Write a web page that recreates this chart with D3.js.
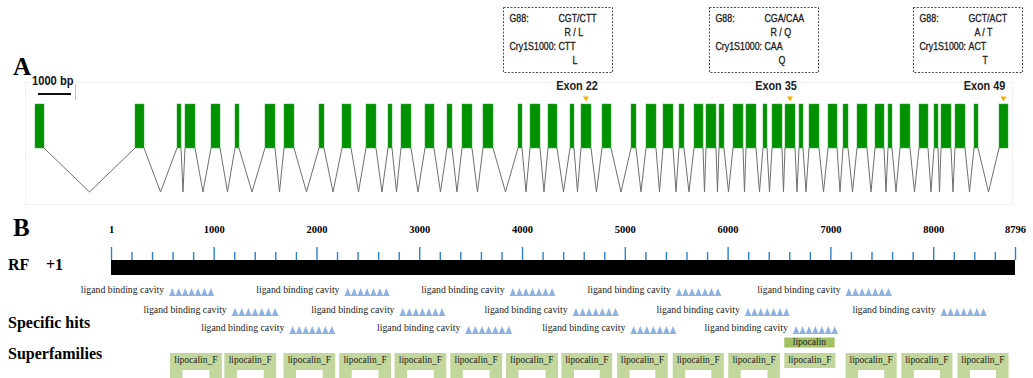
<!DOCTYPE html>
<html>
<head>
<meta charset="utf-8">
<script src="https://cdn.jsdelivr.net/npm/d3@7"></script>
<style>
  html, body { margin: 0; padding: 0; background: #fff; }
  svg { display: block; }
</style>
</head>
<body>
<svg id="chart" width="1033" height="378"></svg>
<script>
// ── Data: panel A (gene structure, bp) ───────────────────────────────
const exonStart = [0, 3030, 4303, 4545, 5333, 6060, 6969, 7545, 8605, 9302,
  10029, 10696, 11090, 11817, 12484, 12938, 13574, 14635, 15000, 15544,
  16211, 16544, 17181, 18060, 18514, 19029, 19514, 19968, 20332, 20726,
  21150, 21544, 22059, 22332, 22726, 23150, 23453, 24029, 24484, 24908,
  25453, 25847, 26210, 26786, 27241, 27453, 27877, 28453, 29211];
const exonEnd = [273, 3303, 4424, 4848, 5606, 6181, 7272, 7848, 8757, 9575,
  10332, 10817, 11393, 12090, 12635, 13241, 13878, 14756, 15302, 15817,
  16332, 16847, 17453, 18211, 18817, 19332, 19665, 20241, 20635, 20877,
  21453, 21847, 22180, 22635, 23029, 23271, 23756, 24302, 24635, 25211,
  25726, 25968, 26513, 27059, 27362, 27756, 28180, 28574, 29483];
const scaleBarBp = 1000;

const snpExons = [22, 35, 49];
const g88Codon = ['CGT/CTT', 'CGA/CAA', 'GCT/ACT'];
const g88Aa = ['R / L', 'R / Q', 'A / T'];
const cryCodon = ['CTT', 'CAA', 'ACT'];
const cryAa = ['L', 'Q', 'T'];

// ── Data: panel B (protein domains, aa) ──────────────────────────────
const proteinLength = 8796;
const majorTicks = [1, 1000, 2000, 3000, 4000, 5000, 6000, 7000, 8000, 8796];
const minorTicks = d3.range(200, 8796, 200).filter(v => v % 1000 !== 0);

const cavityRow = [1, 1, 1, 1, 1, 2, 2, 2, 2, 2, 3, 3, 3, 3];
const cavityStart = [566, 2273, 3879, 5496, 7148, 1176, 2808, 4493, 6168, 8073, 1737, 3448, 5055, 6635];
const cavityEnd = [1004, 2711, 4324, 5938, 7597, 1630, 3253, 4941, 6603, 8521, 2182, 3903, 5500, 7073];

const lipoFStart = [575, 1104, 1679, 2221, 2760, 3302, 3844, 4383, 4925, 5466, 6006, 6551, 7148, 7690, 8236];
const lipoFEnd = [1079, 1608, 2182, 2725, 3263, 3806, 4350, 4877, 5418, 5963, 6509, 7048, 7645, 8187, 8733];
const lipoFPartial = [6551];            // hit drawn without the lower bracket
const lipocalinStart = [6551];
const lipocalinEnd = [7041];

// ── Layout ───────────────────────────────────────────────────────────
const GREEN = '#009100';
const INTRON = '#6f6f6f';
const ORANGE = '#f5b000';
const TICK_BLUE = '#2a80cc';
const TRI_BLUE = '#8db3e2';
const LIPO_F = '#c3d69b';
const LIPO = '#a2c064';
const SANS = "'Liberation Sans', Arial, sans-serif";
const SERIF = "'Liberation Serif', 'Times New Roman', serif";

const EXON_TOP = 104, EXON_BOT = 148, INTRON_DEPTH = 192;
const BOX_DX = [-83, -81, -91], BOX_W = 109, BOX_TOP = 7, BOX_BOT = 72;
const LABEL_DX = [-9, -14, -19];

const svg = d3.select('#chart');

// narrow sans text (stand-in for a condensed face)
function narrowText(parent, x, y, str, size, sx, opts = {}) {
  return parent.append('text')
    .attr('transform', `translate(${x},${y}) scale(${sx},1)`)
    .attr('text-anchor', opts.anchor || 'start')
    .attr('font-family', SANS)
    .attr('font-weight', opts.weight || 'normal')
    .attr('font-size', size)
    .attr('fill', opts.fill || '#222')
    .attr('stroke', opts.stroke || 'none')
    .attr('stroke-width', opts.stroke ? 0.3 : null)
    .text(str);
}

// ── Panel A ──────────────────────────────────────────────────────────
const xA = d3.scaleLinear().domain([0, exonEnd[exonEnd.length - 1]]).range([35, 1008]);

// faint frame
svg.append('rect')
  .attr('x', 25.5).attr('y', 82.5).attr('width', 987).attr('height', 122)
  .attr('fill', 'none').attr('stroke', '#f1f1f1');

svg.append('text')
  .attr('x', 13).attr('y', 75)
  .attr('font-family', SERIF).attr('font-weight', 'bold').attr('font-size', 25)
  .text('A');

// scale bar
narrowText(svg, 32, 85, '1000 bp', 12, 0.93, { weight: 'bold', fill: '#111' });
svg.append('line')
  .attr('x1', 38).attr('x2', 38 + xA(scaleBarBp) - xA(0))
  .attr('y1', 94).attr('y2', 94)
  .attr('stroke', '#111').attr('stroke-width', 2);
svg.append('line')
  .attr('x1', 75.5).attr('x2', 75.5).attr('y1', 84).attr('y2', 100)
  .attr('stroke', '#b9c5d2').attr('stroke-width', 1);

// introns
const introns = d3.range(exonStart.length - 1).map(i => [exonEnd[i], exonStart[i + 1]]);
svg.append('g').selectAll('path')
  .data(introns)
  .join('path')
  .attr('d', d => {
    const a = xA(d[0]), b = xA(d[1]);
    return `M${a},${EXON_BOT}L${(a + b) / 2},${INTRON_DEPTH}L${b},${EXON_BOT}`;
  })
  .attr('fill', 'none')
  .attr('stroke', INTRON)
  .attr('stroke-width', 1);

// exons
svg.append('g').selectAll('rect')
  .data(exonStart.map((s, i) => [s, exonEnd[i]]))
  .join('rect')
  .attr('x', d => xA(d[0]))
  .attr('y', EXON_TOP)
  .attr('width', d => xA(d[1]) - xA(d[0]))
  .attr('height', EXON_BOT - EXON_TOP)
  .attr('fill', GREEN)
  .attr('stroke', '#3fa83f')
  .attr('stroke-width', 0.5);

// SNP markers, labels and boxes
snpExons.forEach((ex, i) => {
  const cx = (xA(exonStart[ex - 1]) + xA(exonEnd[ex - 1])) / 2;

  svg.append('path')
    .attr('d', `M${cx - 3},96.5L${cx + 3},96.5L${cx},101.5Z`)
    .attr('fill', ORANGE);

  narrowText(svg, cx + LABEL_DX[i], 90, `Exon ${ex}`, 12.5, 0.87,
    { anchor: 'middle', weight: 'bold', fill: '#222' });

  const bx = Math.round(cx + BOX_DX[i]) + 0.5;
  const g = svg.append('g').attr('transform', `translate(${bx},${BOX_TOP + 0.5})`);
  g.append('rect')
    .attr('width', BOX_W).attr('height', BOX_BOT - BOX_TOP)
    .attr('fill', 'none').attr('stroke', '#222')
    .attr('stroke-width', 0.8).attr('stroke-dasharray', '2,1.5');

  const rows = [
    [6, 14, 'G88:'], [55, 14, g88Codon[i]],
    [61, 28, g88Aa[i]],
    [6, 42, 'Cry1S1000:'], [55, 42, cryCodon[i]],
    [69, 56, cryAa[i]],
  ];
  rows.forEach(r => narrowText(g, r[0], r[1], r[2], 10.5, 0.84, { fill: '#1a1a1a', stroke: '#1a1a1a' }));
});

// ── Panel B ──────────────────────────────────────────────────────────
const xB = d3.scaleLinear().domain([1, proteinLength]).range([111, 1015]);
const BAR_TOP = 260, BAR_H = 15;

svg.append('text')
  .attr('x', 13).attr('y', 236)
  .attr('font-family', SERIF).attr('font-weight', 'bold').attr('font-size', 25)
  .text('B');

const rowLabels = [
  [8, 270, 'RF'], [46, 270, '+1'],
  [8, 328, 'Specific hits'], [8, 359, 'Superfamilies'],
];
svg.append('g').selectAll('text')
  .data(rowLabels)
  .join('text')
  .attr('x', d => d[0]).attr('y', d => d[1])
  .attr('font-family', SERIF).attr('font-weight', 'bold').attr('font-size', 16)
  .attr('fill', '#000')
  .text(d => d[2]);

// axis: minor then major ticks
const minorAxis = svg.append('g')
  .attr('transform', `translate(0,${BAR_TOP})`)
  .call(d3.axisTop(xB).tickValues(minorTicks).tickSize(8).tickFormat(''));
const majorAxis = svg.append('g')
  .attr('transform', `translate(0,${BAR_TOP})`)
  .call(d3.axisTop(xB).tickValues(majorTicks).tickSize(13).tickPadding(14).tickFormat(d3.format('d')));

[minorAxis, majorAxis].forEach(ax => {
  ax.select('.domain').remove();
  ax.selectAll('line').attr('stroke', TICK_BLUE).attr('stroke-width', 1.4);
});
majorAxis.selectAll('text')
  .attr('font-family', SERIF).attr('font-weight', 'bold').attr('font-size', 10.5)
  .attr('fill', '#000');

svg.append('rect')
  .attr('x', xB(1)).attr('y', BAR_TOP)
  .attr('width', xB(proteinLength) - xB(1)).attr('height', BAR_H)
  .attr('fill', '#000');

// specific hits: ligand binding cavity
const rowBase = { 1: 296, 2: 316, 3: 334 };
const cav = cavityStart.map((s, i) => ({ s, e: cavityEnd[i], row: cavityRow[i] }));
const cavG = svg.append('g').selectAll('g')
  .data(cav)
  .join('g');

cavG.append('text')
  .attr('x', d => xB(d.s) - 5)
  .attr('y', d => rowBase[d.row] - 3.5)
  .attr('text-anchor', 'end')
  .attr('font-family', SERIF).attr('font-size', 9.8)
  .attr('fill', '#222')
  .text('ligand binding cavity');

cavG.append('path')
  .attr('d', d => {
    const x0 = xB(d.s), x1 = xB(d.e), y = rowBase[d.row];
    const w = (x1 - x0) / 7;
    let p = '';
    for (let k = 0; k < 7; k++) {
      const a = x0 + k * w;
      p += `M${a},${y}L${a + w / 2},${y - 8}L${a + w},${y}Z`;
    }
    p += `M${x0},${y - 1}H${x1}V${y}H${x0}Z`;
    return p;
  })
  .attr('fill', TRI_BLUE);

// superfamilies
const fam = lipoFStart.map((s, i) => ({ s, e: lipoFEnd[i], partial: lipoFPartial.includes(s) }));
const famG = svg.append('g').selectAll('g')
  .data(fam)
  .join('g');

famG.append('rect')
  .attr('x', d => xB(d.s)).attr('y', 353)
  .attr('width', d => xB(d.e) - xB(d.s))
  .attr('height', d => d.partial ? 15 : 30)
  .attr('fill', LIPO_F);

famG.filter(d => !d.partial).append('rect')
  .attr('x', d => xB(d.s) + 12.5).attr('y', 370)
  .attr('width', d => xB(d.e) - xB(d.s) - 25)
  .attr('height', 20)
  .attr('fill', '#fff');

famG.append('text')
  .attr('x', d => (xB(d.s) + xB(d.e)) / 2).attr('y', 362.5)
  .attr('text-anchor', 'middle')
  .attr('font-family', SERIF).attr('font-size', 9.5)
  .attr('fill', '#222')
  .text('lipocalin_F');

const lipo = lipocalinStart.map((s, i) => ({ s, e: lipocalinEnd[i] }));
const lipoG = svg.append('g').selectAll('g')
  .data(lipo)
  .join('g');
lipoG.append('rect')
  .attr('x', d => xB(d.s)).attr('y', 337.5)
  .attr('width', d => xB(d.e) - xB(d.s)).attr('height', 10)
  .attr('fill', LIPO);
lipoG.append('text')
  .attr('x', d => (xB(d.s) + xB(d.e)) / 2).attr('y', 345)
  .attr('text-anchor', 'middle')
  .attr('font-family', SERIF).attr('font-size', 9.5)
  .attr('fill', '#222')
  .text('lipocalin');
</script>
</body>
</html>
